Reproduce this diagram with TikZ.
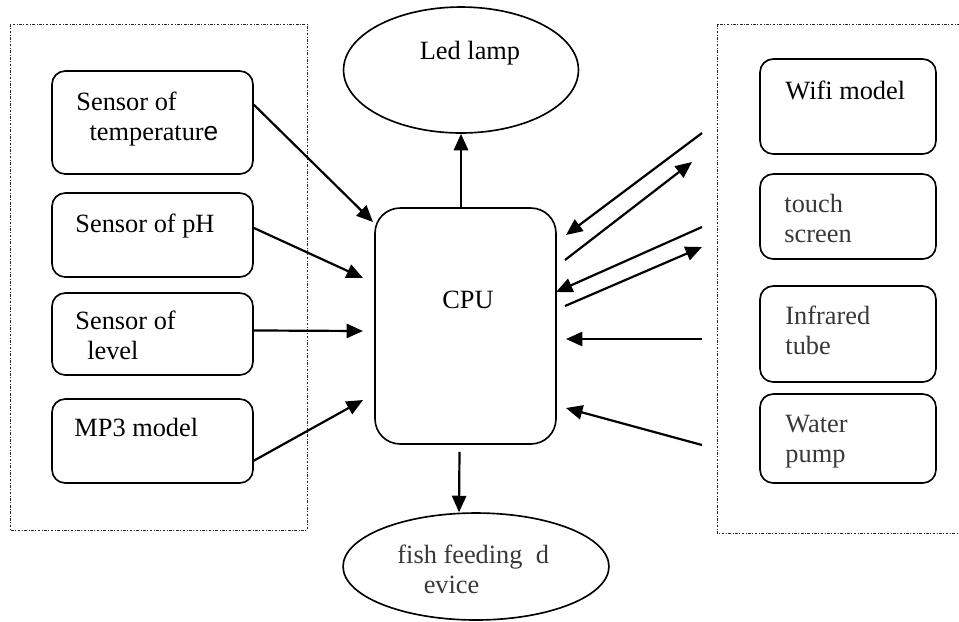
\documentclass[tikz,border=0pt]{standalone}
\usepackage{fontspec}
\setmainfont{Liberation Serif}
\newfontfamily\arialfont{Liberation Sans}
\usetikzlibrary{arrows.meta,shapes.geometric}

\tikzset{
  unit/.style={draw,rounded corners=0.21cm,line width=0.75pt,inner sep=0pt},
  oval/.style={draw,ellipse,line width=0.75pt,inner sep=0pt},
  txt/.style={inner sep=0pt,align=left,font=\fontsize{12}{13.7}\selectfont},
  grey/.style={text=black!78},
  frame/.style={line width=0.3pt,black!85,dash pattern=on 1.2pt off 0.7pt on 0.4pt off 0.7pt},
  link/.style={line width=1pt,-{Triangle[length=7.5pt,width=6.5pt]}}
}

\begin{document}
\begin{tikzpicture}[x=0.016cm,y=-0.016cm]

  \useasboundingbox (0,0) rectangle (959,621);

  \draw[frame] (10,24) rectangle (307,530); % sensors
  \draw[frame] (717,24) rectangle (975,533); % modules

  % left side
  \node[unit,minimum width=3.216cm,minimum height=1.648cm] (temp) at (152.5,122.5) {};
  \node[unit,minimum width=3.216cm,minimum height=1.344cm] (ph) at (152.5,235) {};
  \node[unit,minimum width=3.216cm,minimum height=1.312cm] (lvl) at (152.5,334) {};
  \node[unit,minimum width=3.216cm,minimum height=1.344cm] (mp3) at (152.5,441) {};
  \node[txt,anchor=north west] (tempT) at (76,91) {Sensor of\\\hspace*{0.5em}temperatur{\arialfont e}};
  \node[txt,anchor=north west] (phT) at (75,213) {Sensor of pH};
  \node[txt,anchor=north west] (lvlT) at (75,310) {Sensor of\\\hspace*{0.45em}level};
  \node[txt,anchor=north west] (mp3T) at (74,418) {MP3 model};

  % right side
  \node[unit,minimum width=2.816cm,minimum height=1.52cm] (wifi) at (848,106.5) {};
  \node[unit,minimum width=2.816cm,minimum height=1.36cm] (touch) at (848,216.5) {};
  \node[unit,minimum width=2.816cm,minimum height=1.536cm] (ir) at (848,334) {};
  \node[unit,minimum width=2.816cm,minimum height=1.424cm] (pump) at (848,438.5) {};
  \node[txt,anchor=north west] (wifiT) at (785,80) {Wifi model};
  \node[txt,grey,anchor=north west] (touchT) at (784,194) {touch\\screen};
  \node[txt,grey,anchor=north west] (irT) at (785,305) {Infrared\\tube};
  \node[txt,grey,anchor=north west] (pumpT) at (785,415) {Water\\pump};

  % middle
  \node[unit,rounded corners=0.4cm,minimum width=2.896cm,minimum height=3.776cm] (cpu) at (465.5,326) {};
  \node[txt,anchor=north] (cpuT) at (468,291) {CPU};
  \node[oval,minimum width=3.76cm,minimum height=2.016cm] (led) at (461,70) {};
  \node[txt,anchor=north] (ledT) at (470,41) {Led lamp};
  \node[oval,minimum width=4.256cm,minimum height=1.712cm] (fish) at (476,566.5) {};
  \node[txt,grey,anchor=north west] (fishT) at (397,544) {fish feeding\ \ d\\\hspace*{1em}evice};

  % free ends
  \coordinate (inT) at (373,222);
  \coordinate (inP) at (363,278);
  \coordinate (inL) at (363,331);
  \coordinate (inM) at (363,400);
  \coordinate (wA) at (702,133);
  \coordinate (wB) at (566,235);
  \coordinate (wC) at (565,260);
  \coordinate (wD) at (692,162);
  \coordinate (sA) at (702,227);
  \coordinate (sB) at (556,292);
  \coordinate (sC) at (565,306);
  \coordinate (sD) at (702,247);
  \coordinate (iA) at (702,339);
  \coordinate (iB) at (566,339);
  \coordinate (pA) at (702,445);
  \coordinate (pB) at (566,408);

  \draw[link] (temp.10) -- (inT);
  \draw[link] (ph.4) -- (inP);
  \draw[link] (lvl.2) -- (inL);
  \draw[link] (mp3.-11) -- (inM);

  \draw[link] (wA) -- (wB);
  \draw[link] (wC) -- (wD);
  \draw[link] (sA) -- (sB);
  \draw[link] (sC) -- (sD);
  \draw[link] (iA) -- (iB);
  \draw[link] (pA) -- (pB);

  \draw[link] (cpu.north -| led.south) -- (led.south);
  \draw[link] ([shift={(-6,7)}]cpu.south) -- ([shift={(-17,0)}]fish.north);

\end{tikzpicture}
\end{document}
